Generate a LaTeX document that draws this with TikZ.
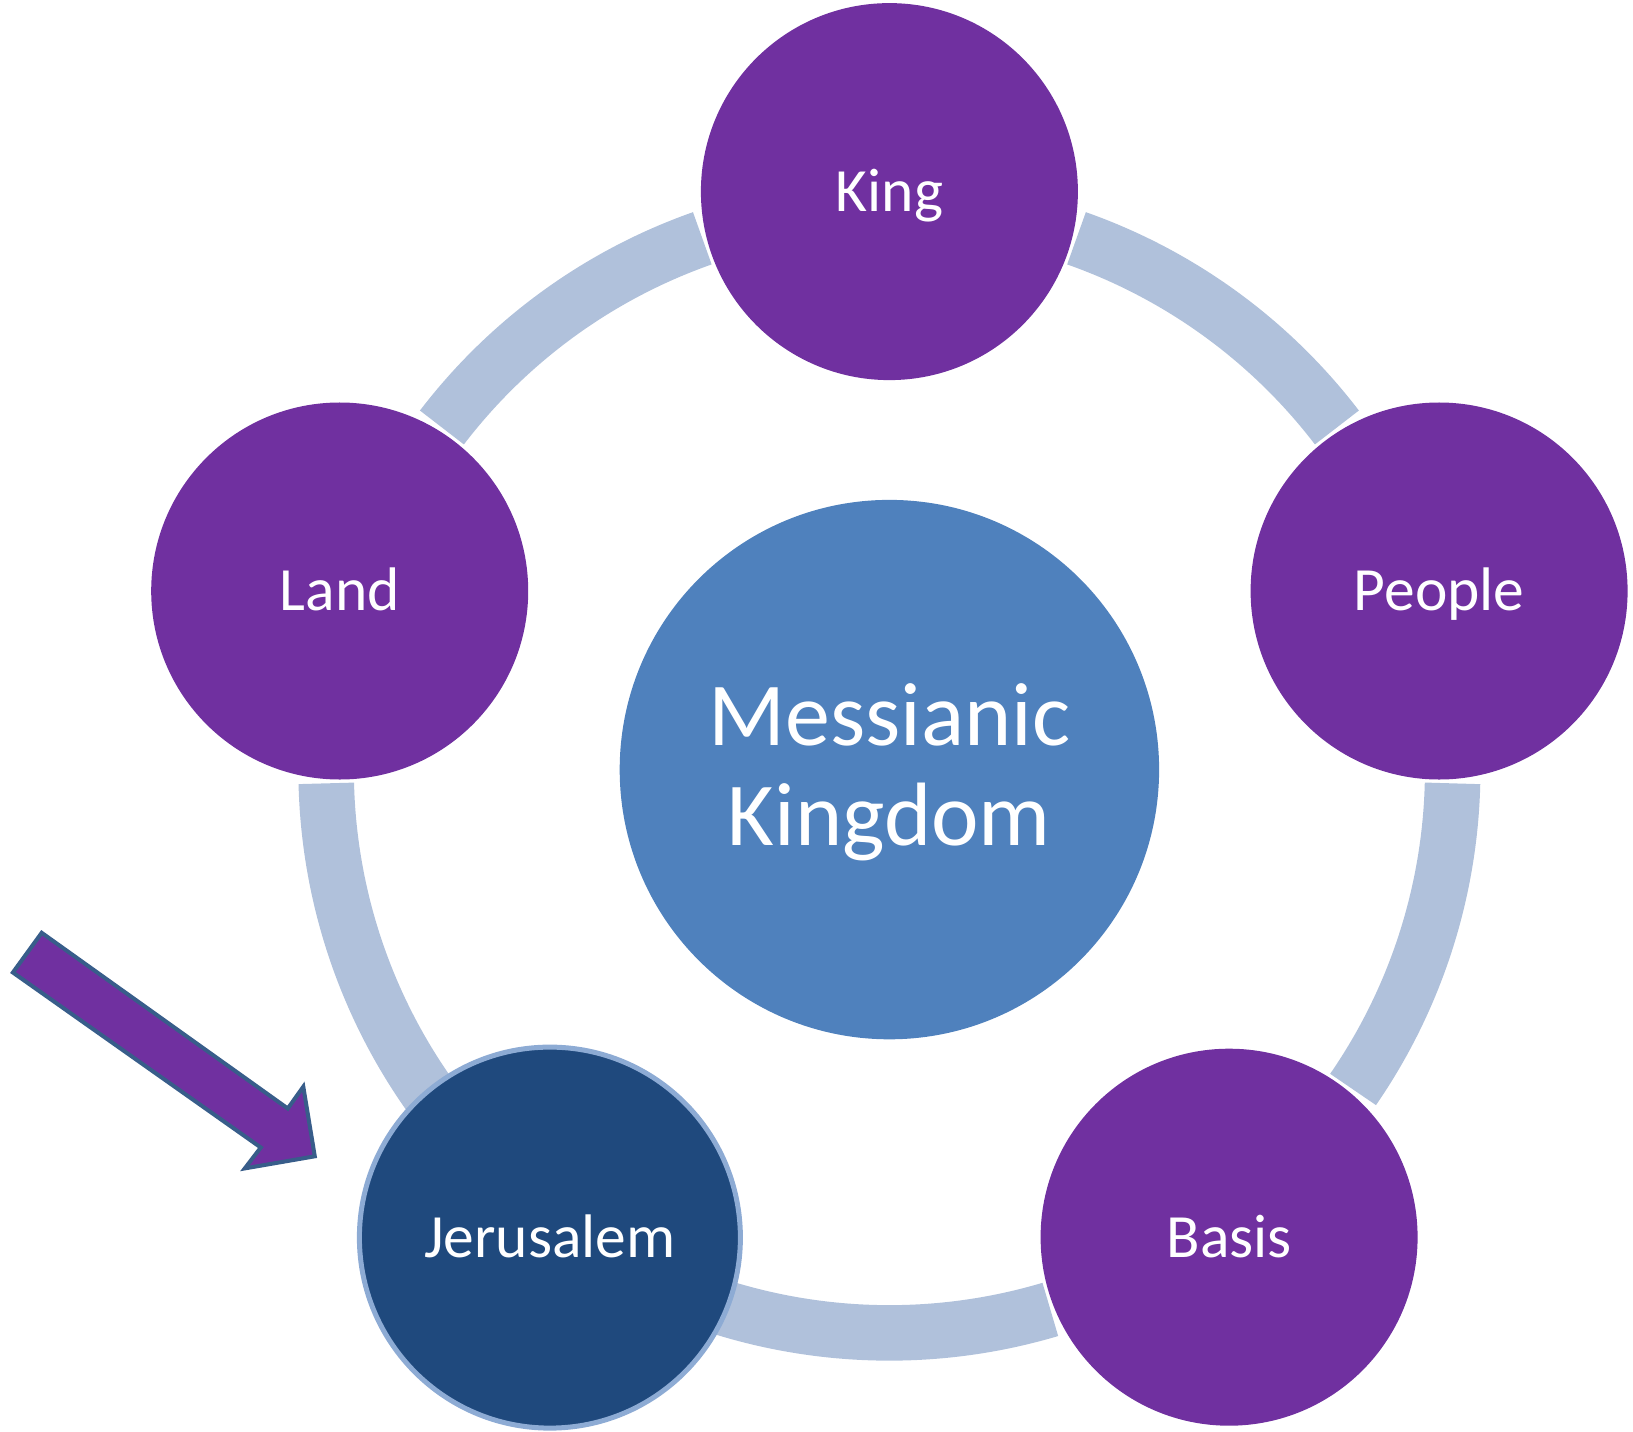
\documentclass[tikz,border=0pt]{standalone}
\usepackage{fontspec}
\setmainfont{Carlito}
\usetikzlibrary{calc}
\definecolor{kpurple}{HTML}{7030A0}
\definecolor{khub}{HTML}{4F81BD}
\definecolor{kring}{HTML}{B0C1DB}
\definecolor{kjer}{HTML}{1F497D}
\definecolor{kjerborder}{HTML}{8DABD4}
\definecolor{karrowline}{HTML}{385D8A}
\tikzset{
  sat/.style={circle, fill=kpurple, draw=none, minimum size=188.5bp, inner sep=0pt,
    text=white, font=\fontsize{30.75bp}{36bp}\selectfont, text height=19.8bp, text depth=0pt},
  jer/.style={sat, fill=kjer, draw=kjerborder, line width=2.5bp, minimum size=190.5bp},
  hub/.style={circle, fill=khub, draw=none, minimum size=269.7bp, inner sep=0pt,
    text=white, align=center, font=\fontsize{45bp}{50bp}\selectfont, text height=76bp, text depth=0bp},
  ringarc/.style={draw=kring, line width=27.75bp, line cap=butt},
  blockarrow/.style={fill=kpurple, draw=karrowline, line width=2bp, line join=miter}
}
\begin{document}
\begin{tikzpicture}[x=0.5bp,y=-0.5bp]
\useasboundingbox (0,0) rectangle (1633,1432);
\coordinate (c) at (889.4,769.6);
% ring segments
\draw[ringarc] ($(c)+(37.4:281.65bp)$) arc[start angle=37.4, end angle=70.6, radius=281.65bp];
\draw[ringarc] ($(c)+(109.4:281.65bp)$) arc[start angle=109.4, end angle=142.6, radius=281.65bp];
\draw[ringarc] ($(c)+(181.4:281.65bp)$) arc[start angle=181.4, end angle=222, radius=281.65bp];
\draw[ringarc] ($(c)+(-118:281.65bp)$) arc[start angle=-118, end angle=-73.4, radius=281.65bp];
\draw[ringarc] ($(c)+(-34.6:281.65bp)$) arc[start angle=-34.6, end angle=-1.4, radius=281.65bp];
% nodes
\node[hub] (mk) at (c) {Messianic\\Kingdom};
\node[sat] (king) at (889.4,191.6) {King};
\node[sat] (people) at (1439.1,591) {People};
\node[sat] (basis) at (1229.1,1237.2) {Basis};
\node[sat] (land) at (339.7,591) {Land};
\node[jer] (jer) at (549.9,1237.6) {Jerusalem};
% pointer arrow
\draw[blockarrow] (41.7,932.8) -- (287.8,1108.5) -- (303.3,1086.7) -- (314.8,1156.3)
  -- (244.8,1168.4) -- (260.8,1147.5) -- (12.9,972.5) -- cycle;
\end{tikzpicture}
\end{document}
